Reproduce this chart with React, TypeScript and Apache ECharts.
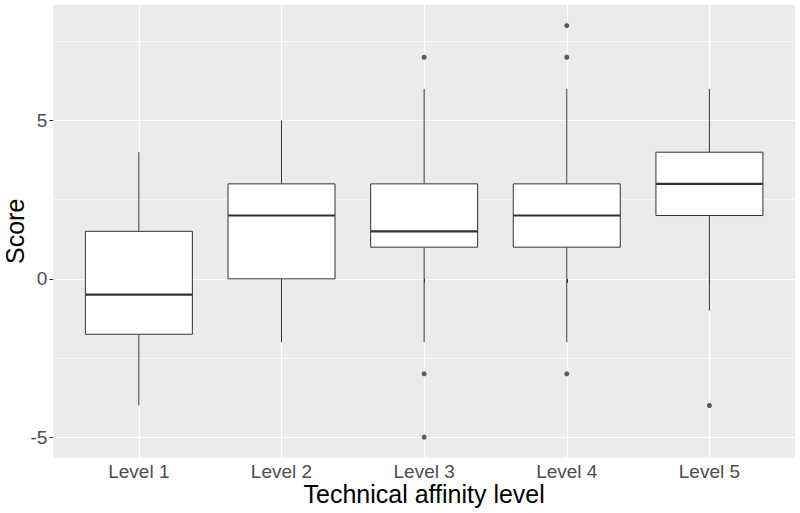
import React, { useEffect, useRef } from "react";
import * as echarts from "echarts";

const categories = ["Level 1", "Level 2", "Level 3", "Level 4", "Level 5"];
const whiskerLow = [-4, -2, -2, -2, -1];
const q1 = [-1.75, 0, 1, 1, 2];
const median = [-0.5, 2, 1.5, 2, 3];
const q3 = [1.5, 3, 3, 3, 4];
const whiskerHigh = [4, 5, 6, 6, 6];
// [category position (1-based), value]
const outliers: [number, number][] = [
  [3, 7],
  [3, -3],
  [3, -5],
  [4, 8],
  [4, 7],
  [4, -3],
  [5, -4],
];
const yTicks = [-5, 0, 5];
const yMinorTicks = [-2.5, 2.5, 7.5];
const xTicks = [1, 2, 3, 4, 5];

const FONT = "Liberation Sans, Arial, sans-serif";

export default function App() {
  const ref = useRef<HTMLDivElement>(null);

  useEffect(() => {
    if (!ref.current) return;
    const chart = echarts.init(ref.current, undefined, { renderer: "svg" });

    const boxData = categories.map((_, i) => [
      i + 1,
      whiskerLow[i],
      q1[i],
      median[i],
      q3[i],
      whiskerHigh[i],
    ]);

    const halfWidth = 0.375;
    const lineColor = "#333333";

    const option: any = {
      animation: false,
      backgroundColor: "#ffffff",
      grid: {
        left: 53.3,
        right: 5,
        top: 5,
        bottom: 55.3,
        containLabel: false,
        outerBoundsMode: "none",
        show: true,
        backgroundColor: "#EBEBEB",
        borderWidth: 0,
      },
      xAxis: {
        type: "value",
        min: 0.4,
        max: 5.6,
        name: "Technical affinity level",
        nameLocation: "middle",
        nameMoveOverlap: false,
        nameGap: 24,
        nameTextStyle: {
          fontFamily: FONT,
          fontSize: 25,
          lineHeight: 25,
          color: "#000000",
        },
        axisLine: { show: false },
        axisTick: {
          show: true,
          customValues: xTicks,
          length: 4,
          lineStyle: { color: lineColor, width: 1 },
        },
        axisLabel: {
          customValues: xTicks,
          margin: 4,
          fontFamily: FONT,
          fontSize: 19,
          lineHeight: 19,
          color: "#4D4D4D",
          formatter: (v: number) => categories[Math.round(v) - 1] ?? "",
        },
        splitLine: { show: true, lineStyle: { color: "#ffffff", width: 1.2 } },
      },
      yAxis: {
        type: "value",
        min: -5.65,
        max: 8.65,
        name: "Score",
        nameLocation: "middle",
        nameRotate: 90,
        nameMoveOverlap: false,
        nameGap: 26,
        nameTextStyle: { fontFamily: FONT, fontSize: 25, color: "#000000" },
        axisLine: { show: false },
        axisTick: {
          show: true,
          customValues: yTicks,
          length: 4,
          lineStyle: { color: lineColor, width: 1 },
        },
        axisLabel: {
          customValues: yTicks,
          margin: 6,
          fontFamily: FONT,
          fontSize: 19,
          color: "#4D4D4D",
        },
        splitLine: { show: true, lineStyle: { color: "#ffffff", width: 1.2 } },
      },
      series: [
        {
          type: "line",
          data: [],
          z: 1,
          silent: true,
          markLine: {
            silent: true,
            z: 1,
            symbol: ["none", "none"],
            label: { show: false },
            lineStyle: { color: "#ffffff", width: 0.6, type: "solid" },
            emphasis: { disabled: true },
            data: yMinorTicks.map((v) => ({ yAxis: v })),
          },
        },
        {
          type: "custom",
          z: 2,
          data: boxData,
          encode: { x: 0, y: [1, 2, 3, 4, 5] },
          renderItem: (params: any, api: any) => {
            const x = api.value(0);
            const lo = api.coord([x, api.value(1)]);
            const b1 = api.coord([x, api.value(2)]);
            const md = api.coord([x, api.value(3)]);
            const b3 = api.coord([x, api.value(4)]);
            const hi = api.coord([x, api.value(5)]);
            const left = api.coord([x - halfWidth, api.value(3)])[0];
            const right = api.coord([x + halfWidth, api.value(3)])[0];
            const cx = lo[0];
            return {
              type: "group",
              children: [
                {
                  type: "line",
                  shape: { x1: cx, y1: hi[1], x2: cx, y2: b3[1] },
                  style: { stroke: lineColor, lineWidth: 1 },
                },
                {
                  type: "line",
                  shape: { x1: cx, y1: b1[1], x2: cx, y2: lo[1] },
                  style: { stroke: lineColor, lineWidth: 1 },
                },
                {
                  type: "rect",
                  shape: {
                    x: left,
                    y: b3[1],
                    width: right - left,
                    height: b1[1] - b3[1],
                  },
                  style: { fill: "#ffffff", stroke: lineColor, lineWidth: 1 },
                },
                {
                  type: "line",
                  shape: { x1: left, y1: md[1], x2: right, y2: md[1] },
                  style: { stroke: lineColor, lineWidth: 2.2 },
                },
              ],
            };
          },
        },
        {
          type: "scatter",
          z: 3,
          data: outliers,
          symbol: "circle",
          symbolSize: 5,
          itemStyle: { color: lineColor },
        },
      ],
    };

    chart.setOption(option);
    return () => chart.dispose();
  }, []);

  return (
    <div
      ref={ref}
      style={{ position: "absolute", left: 0, top: 0, width: 800, height: 513 }}
    />
  );
}
